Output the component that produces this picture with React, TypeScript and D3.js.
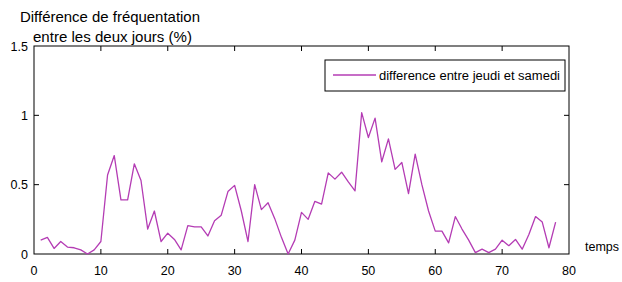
import React from "react";
import * as d3 from "d3";

const xValues: number[] = Array.from({ length: 78 }, (_, i) => i + 1);
const diffValues: number[] = [
  0.10, 0.12, 0.04, 0.09, 0.05, 0.045, 0.03, 0.0, 0.03, 0.09,
  0.57, 0.71, 0.39, 0.39, 0.65, 0.53, 0.18, 0.31, 0.09, 0.15,
  0.105, 0.03, 0.205, 0.195, 0.195, 0.13, 0.24, 0.28, 0.45, 0.495,
  0.31, 0.09, 0.50, 0.32, 0.37, 0.255, 0.12, 0.0, 0.10, 0.30,
  0.25, 0.38, 0.36, 0.585, 0.54, 0.59, 0.52, 0.455, 1.02, 0.84,
  0.98, 0.665, 0.83, 0.61, 0.66, 0.435, 0.72, 0.50, 0.31, 0.165,
  0.165, 0.08, 0.27, 0.18, 0.10, 0.01, 0.035, 0.01, 0.035, 0.10,
  0.06, 0.105, 0.035, 0.14, 0.27, 0.23, 0.045, 0.23,
];
const xTicks: number[] = [0, 10, 20, 30, 40, 50, 60, 70, 80];
const yTicks: number[] = [0, 0.5, 1, 1.5];
const yTickLabels: string[] = ["0", "0.5", "1", "1.5"];
const titleLines: string[] = ["Différence de fréquentation", "entre les deux jours (%)"];
const xLabel = "temps";
const legendLabel = "difference entre jeudi et samedi";

export default function App() {
  const W = 622, H = 282;
  const left = 34, right = 569, top = 46, bottom = 254;
  const x = d3.scaleLinear().domain([0, 80]).range([left, right]);
  const y = d3.scaleLinear().domain([0, 1.5]).range([bottom, top]);
  const line = d3
    .line<number>()
    .x((_, i) => x(xValues[i]))
    .y((d) => y(d));
  const tl = 5;
  const font = "'Liberation Sans', Arial, sans-serif";
  const lineColor = "#b43cb4";
  return (
    <svg
      width={W}
      height={H}
      style={{ position: "absolute", left: 0, top: 0, background: "#fff" }}
      fontFamily={font}
    >
      <rect x={0} y={0} width={W} height={H} fill="#fff" />
      {xTicks.slice(1, -1).map((t) => (
        <g key={"xt" + t}>
          <line x1={x(t)} x2={x(t)} y1={bottom} y2={bottom - tl} stroke="#000" />
          <line x1={x(t)} x2={x(t)} y1={top} y2={top + tl} stroke="#000" />
        </g>
      ))}
      {yTicks.slice(1, -1).map((t) => (
        <g key={"yt" + t}>
          <line x1={left} x2={left + tl} y1={y(t)} y2={y(t)} stroke="#000" />
          <line x1={right} x2={right - tl} y1={y(t)} y2={y(t)} stroke="#000" />
        </g>
      ))}
      <rect
        x={left}
        y={top}
        width={right - left}
        height={bottom - top}
        fill="none"
        stroke="#000"
        strokeWidth={1}
      />
      {xTicks.map((t) => (
        <text key={"xl" + t} x={x(t)} y={275} fontSize={12.5} textAnchor="middle">
          {t}
        </text>
      ))}
      {yTicks.map((t, i) => (
        <text
          key={"yl" + t}
          x={left - 6}
          y={y(t) + 4.5}
          fontSize={12.5}
          textAnchor="end"
        >
          {yTickLabels[i]}
        </text>
      ))}
      <text x={585} y={251} fontSize={12.5}>
        {xLabel}
      </text>
      <text x={20} y={22} fontSize={14.5} textLength={180} lengthAdjust="spacingAndGlyphs">
        {titleLines[0]}
      </text>
      <text x={33} y={42} fontSize={14.5} textLength={159} lengthAdjust="spacingAndGlyphs">
        {titleLines[1]}
      </text>
      <path
        d={line(diffValues) || ""}
        fill="none"
        stroke={lineColor}
        strokeWidth={1.3}
        strokeLinejoin="round"
      />
      <rect x={325} y={60} width={240} height={31} fill="#fff" stroke="#000" />
      <line x1={333} x2={376} y1={75} y2={75} stroke={lineColor} strokeWidth={1.3} />
      <text x={379} y={80} fontSize={12.5} textLength={181} lengthAdjust="spacingAndGlyphs">
        {legendLabel}
      </text>
    </svg>
  );
}
